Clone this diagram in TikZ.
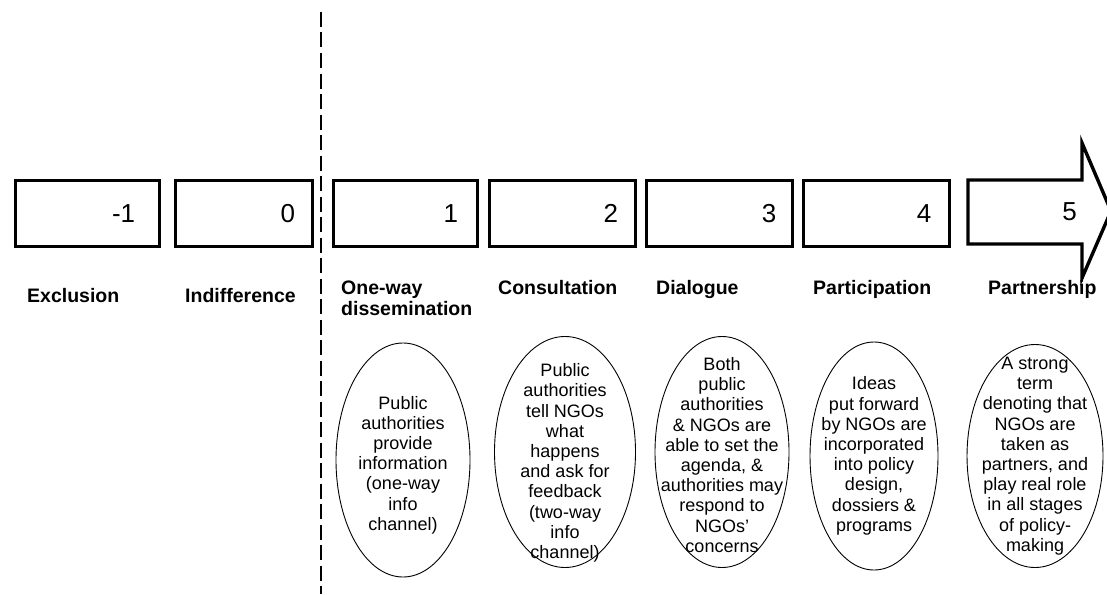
\documentclass[tikz,border=0pt]{standalone}
\usepackage{fontspec}
\setmainfont{Liberation Sans}
\usetikzlibrary{shapes.geometric}
\begin{document}
\begin{tikzpicture}[x=1pt,y=-1pt,
  stagebox/.style={draw, line width=3.4pt, inner sep=0pt, anchor=north west,
    minimum height=66pt},
  level/.style={font=\fontsize{26}{30}\selectfont, anchor=east, inner sep=0pt},
  stagename/.style={font=\fontsize{19.5}{21}\selectfont\bfseries, anchor=north west,
    align=left, inner sep=0pt},
  bubble/.style={draw, ellipse, line width=0.9pt, inner sep=0pt},
  bubbletext/.style={font=\fontsize{18}{20.2}\selectfont, align=center, inner sep=0pt},
  divider/.style={line width=2pt, dash pattern=on 15pt off 5.5pt}]

\useasboundingbox (0,0) rectangle (1107,594);

% the ladder of stages
\node[stagebox, minimum width=144pt] (bm1) at (14,179) {};
\node[stagebox, minimum width=137pt] (b0)  at (174,179) {};
\node[stagebox, minimum width=144pt] (b1)  at (332,179) {};
\node[stagebox, minimum width=146pt] (b2)  at (488,179) {};
\node[stagebox, minimum width=146pt] (b3)  at (645,179) {};
\node[stagebox, minimum width=146pt] (b4)  at (802,179) {};

% last stage drawn as a block arrow
\coordinate (a1) at (968,180);
\coordinate (a2) at (1082,180);
\coordinate (a3) at (1082,143);
\coordinate (a4) at (1111,211);
\coordinate (a5) at (1082,278);
\coordinate (a6) at (1082,244);
\coordinate (a7) at (968,244);
\draw[line width=3.4pt, line join=miter] (a1) -- (a2) -- (a3) -- (a4) -- (a5) -- (a6) -- (a7) -- cycle;

% level numbers
\node[level] (nm1) at ([xshift=-26pt]bm1.east) {-1};
\node[level] (n0)  at ([xshift=-19pt]b0.east) {0};
\node[level] (n1)  at ([xshift=-21pt]b1.east) {1};
\node[level] (n2)  at ([xshift=-19pt]b2.east) {2};
\node[level] (n3)  at ([xshift=-18pt]b3.east) {3};
\node[level] (n4)  at ([xshift=-20pt]b4.east) {4};
\node[level] (n5)  at (1077,212) {5};

% stage names
\node[stagename] (lm1) at (27,288) {Exclusion};
\node[stagename] (l0)  at (185,288) {Indifference};
\node[stagename] (l1)  at (341,280.5) {One-way\\dissemination};
\node[stagename] (l2)  at (498,280) {Consultation};
\node[stagename] (l3)  at (656,280) {Dialogue};
\node[stagename] (l4)  at (813,280) {Participation};
\node[stagename] (l5)  at (988,280) {Partnership};

% divider between the negative and positive stages
\coordinate (dtop) at (321,12);
\coordinate (dbot) at (321,594);
\draw[divider] (dtop) -- (dbot);

% descriptions
\node[bubble, minimum width=134pt, minimum height=234pt] (e1) at (403,460) {};
\node[bubble, minimum width=141pt, minimum height=231pt] (e2) at (565,452) {};
\node[bubble, minimum width=134pt, minimum height=231pt] (e3) at (722,452) {};
\node[bubble, minimum width=128pt, minimum height=228pt] (e4) at (874,456) {};
\node[bubble, minimum width=136pt, minimum height=223pt] (e5) at (1035,456) {};

\node[bubbletext] (t1) at ([yshift=-5pt]e1.center) {Public\\authorities\\provide\\information\\(one-way\\info\\channel)};
\node[bubbletext] (t2) at ([yshift=-11pt]e2.center) {Public\\authorities\\tell NGOs\\what\\happens\\and ask for\\feedback\\(two-way\\info\\channel)};
\node[bubbletext] (t3) at ([yshift=-3pt]e3.center) {Both\\public\\authorities\\\& NGOs are\\able to set the\\agenda, \&\\authorities may\\respond to\\NGOs’\\concerns};
\node[bubbletext] (t4) at (e4) {Ideas\\put forward\\by NGOs are\\incorporated\\into policy\\design,\\dossiers \&\\programs};
\node[bubbletext] (t5) at (e5) {A strong\\term\\denoting that\\NGOs are\\taken as\\partners, and\\play real role\\in all stages\\of policy-\\making};
\end{tikzpicture}
\end{document}
